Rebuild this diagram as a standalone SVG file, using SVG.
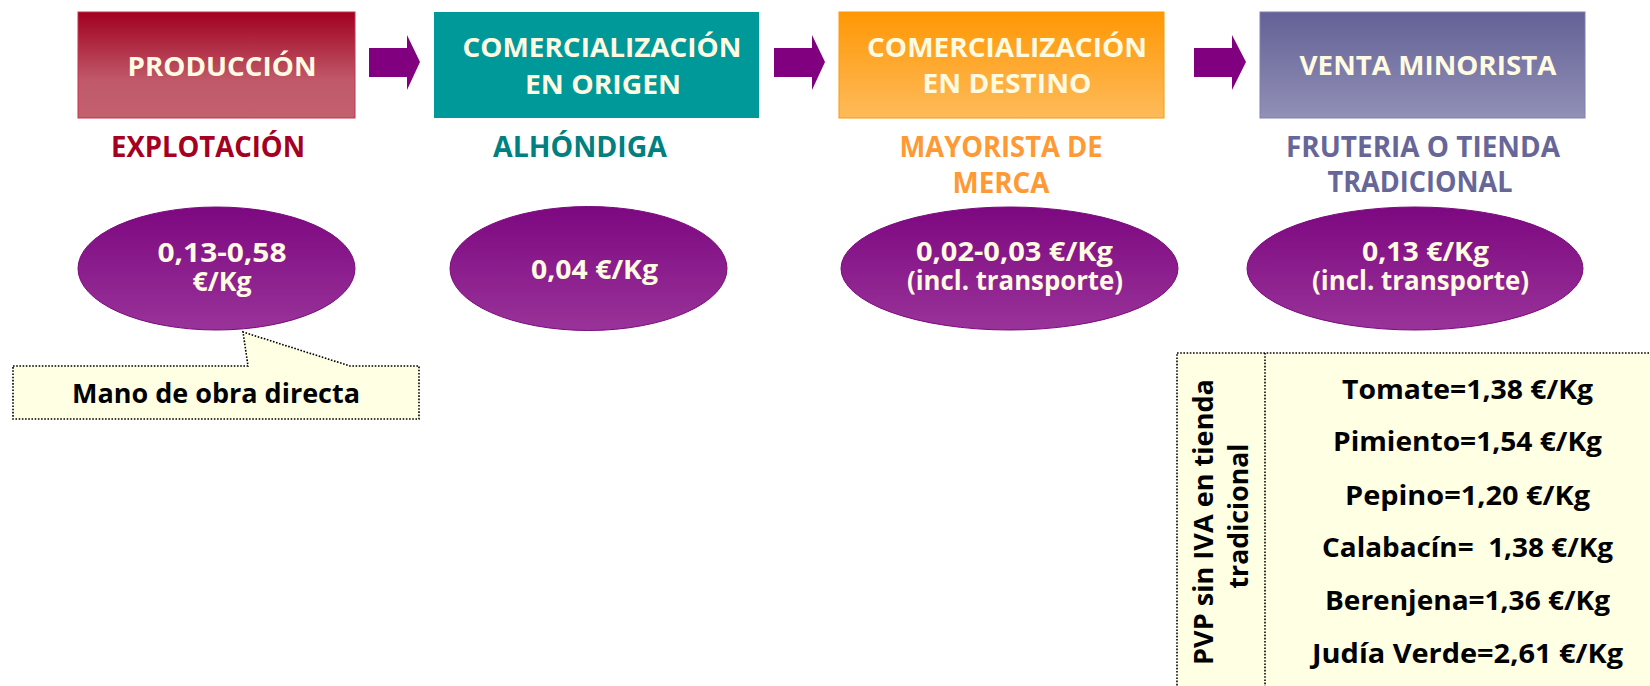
<svg xmlns="http://www.w3.org/2000/svg" width="1650" height="686" viewBox="0 0 1650 686">
<defs>
<linearGradient id="gRed" x1="0" y1="0" x2="0" y2="1"><stop offset="0" stop-color="#A1001F"/><stop offset="0.65" stop-color="#C05A6A"/><stop offset="1" stop-color="#C3606E"/></linearGradient>
<linearGradient id="gOrange" x1="0" y1="0" x2="0" y2="1"><stop offset="0" stop-color="#FF9705"/><stop offset="1" stop-color="#FEBB5A"/></linearGradient>
<linearGradient id="gBlue" x1="0" y1="0" x2="0" y2="1"><stop offset="0" stop-color="#636196"/><stop offset="1" stop-color="#9190B6"/></linearGradient>
<linearGradient id="gPurple" x1="0" y1="0" x2="0" y2="1"><stop offset="0" stop-color="#7D0880"/><stop offset="1" stop-color="#993399"/></linearGradient>
</defs>
<style>
text{font-family:"Open Sans","DejaVu Sans",sans-serif;font-weight:bold;}
.box{font-size:27px;fill:#FFFBE2;text-anchor:middle;}
.lbl{font-size:28px;text-anchor:middle;}
.ell{font-size:26px;fill:#FFFBE2;text-anchor:middle;}
.blk{font-size:26px;fill:#000;text-anchor:middle;}
.arrow{fill:#800080;}
.oval{fill:url(#gPurple);stroke:#7A0A7E;stroke-width:1;}
.dot{fill:#FFFFE3;stroke:#000;stroke-width:1.6;stroke-dasharray:1.6 1.6;}
</style>

<g id="connectors">
<polygon class="arrow" points="369,48 407,48 407,35 420,62 407,90 407,77 369,77"/>
<polygon class="arrow" points="774,48 812,48 812,35 825,62 812,90 812,77 774,77"/>
<polygon class="arrow" points="1194,48 1232,48 1232,35 1246,62 1232,90 1232,77 1194,77"/>
</g>

<g id="produccion">
<rect x="78" y="12" width="277" height="106" fill="url(#gRed)" stroke="#C7334F" stroke-width="1"/>
<text class="box" x="222" y="76" textLength="189" lengthAdjust="spacingAndGlyphs">PRODUCCIÓN</text>
<text class="lbl" x="208" y="157" fill="#A50021" textLength="194" lengthAdjust="spacingAndGlyphs">EXPLOTACIÓN</text>
</g>

<g id="origen">
<rect x="434" y="12" width="325" height="106" fill="#009999"/>
<text class="box"><tspan x="602" y="57" textLength="279" lengthAdjust="spacingAndGlyphs">COMERCIALIZACIÓN</tspan><tspan x="603" y="94" textLength="156" lengthAdjust="spacingAndGlyphs">EN ORIGEN</tspan></text>
<text class="lbl" x="580" y="157" fill="#008080" textLength="174" lengthAdjust="spacingAndGlyphs">ALHÓNDIGA</text>
</g>

<g id="destino">
<rect x="839" y="12" width="325" height="106" fill="url(#gOrange)" stroke="#FF9900" stroke-width="1"/>
<text class="box"><tspan x="1007" y="57" textLength="280" lengthAdjust="spacingAndGlyphs">COMERCIALIZACIÓN</tspan><tspan x="1007" y="93" textLength="169" lengthAdjust="spacingAndGlyphs">EN DESTINO</tspan></text>
<text class="lbl" fill="#FF9933"><tspan x="1001" y="157" textLength="203" lengthAdjust="spacingAndGlyphs">MAYORISTA DE</tspan><tspan x="1001" y="193" textLength="97" lengthAdjust="spacingAndGlyphs">MERCA</tspan></text>
</g>

<g id="minorista">
<rect x="1260" y="12" width="325" height="106" fill="url(#gBlue)" stroke="#8080B0" stroke-width="1"/>
<text class="box" x="1428" y="75" textLength="257" lengthAdjust="spacingAndGlyphs">VENTA MINORISTA</text>
<text class="lbl" fill="#666699"><tspan x="1423" y="157" textLength="274" lengthAdjust="spacingAndGlyphs">FRUTERIA O TIENDA</tspan><tspan x="1420" y="192" textLength="185" lengthAdjust="spacingAndGlyphs">TRADICIONAL</tspan></text>
</g>

<g id="coste-produccion">
<ellipse class="oval" cx="216.5" cy="268.5" rx="138.5" ry="61.5"/>
<text class="ell"><tspan x="222" y="262" textLength="129" lengthAdjust="spacingAndGlyphs">0,13-0,58</tspan><tspan x="222" y="291" textLength="59" lengthAdjust="spacingAndGlyphs">€/Kg</tspan></text>
</g>

<g id="coste-origen">
<ellipse class="oval" cx="588.5" cy="268.5" rx="138.5" ry="62"/>
<text class="ell" x="594.5" y="279" textLength="127" lengthAdjust="spacingAndGlyphs">0,04 €/Kg</text>
</g>

<g id="coste-destino">
<ellipse class="oval" cx="1009.5" cy="268.5" rx="168.5" ry="61.5"/>
<text class="ell"><tspan x="1014.5" y="261" textLength="197" lengthAdjust="spacingAndGlyphs">0,02-0,03 €/Kg</tspan><tspan x="1015" y="290" textLength="216" lengthAdjust="spacingAndGlyphs">(incl. transporte)</tspan></text>
</g>

<g id="coste-minorista">
<ellipse class="oval" cx="1415" cy="268.5" rx="168" ry="61.5"/>
<text class="ell"><tspan x="1425.5" y="261" textLength="127" lengthAdjust="spacingAndGlyphs">0,13 €/Kg</tspan><tspan x="1420.5" y="290" textLength="217" lengthAdjust="spacingAndGlyphs">(incl. transporte)</tspan></text>
</g>

<g id="callout">
<path class="dot" d="M13,366 L248,366 L243,332 L350,366 L419,366 L419,419 L13,419 Z"/>
<text class="blk" x="216" y="403" textLength="288" lengthAdjust="spacingAndGlyphs">Mano de obra directa</text>
</g>

<g id="tabla-pvp">
<rect class="dot" x="1177" y="353" width="490" height="345"/>
<line x1="1265" y1="353" x2="1265" y2="690" stroke="#000" stroke-width="1.6" stroke-dasharray="1.6 1.6"/>
<text class="blk" transform="rotate(-90)"><tspan x="-522" y="1213" textLength="286" lengthAdjust="spacingAndGlyphs">PVP sin IVA en tienda</tspan><tspan x="-516" y="1248" textLength="145" lengthAdjust="spacingAndGlyphs">tradicional</tspan></text>
<text class="blk" x="1467.5" y="399" textLength="251" lengthAdjust="spacingAndGlyphs">Tomate=1,38 €/Kg</text>
<text class="blk" x="1467.5" y="451" textLength="269" lengthAdjust="spacingAndGlyphs">Pimiento=1,54 €/Kg</text>
<text class="blk" x="1467.5" y="505" textLength="245" lengthAdjust="spacingAndGlyphs">Pepino=1,20 €/Kg</text>
<text class="blk" x="1467.5" y="557" textLength="291" lengthAdjust="spacingAndGlyphs" xml:space="preserve">Calabacín=  1,38 €/Kg</text>
<text class="blk" x="1467.5" y="610" textLength="285" lengthAdjust="spacingAndGlyphs">Berenjena=1,36 €/Kg</text>
<text class="blk" x="1467.5" y="663" textLength="311" lengthAdjust="spacingAndGlyphs">Judía Verde=2,61 €/Kg</text>
</g>
</svg>
